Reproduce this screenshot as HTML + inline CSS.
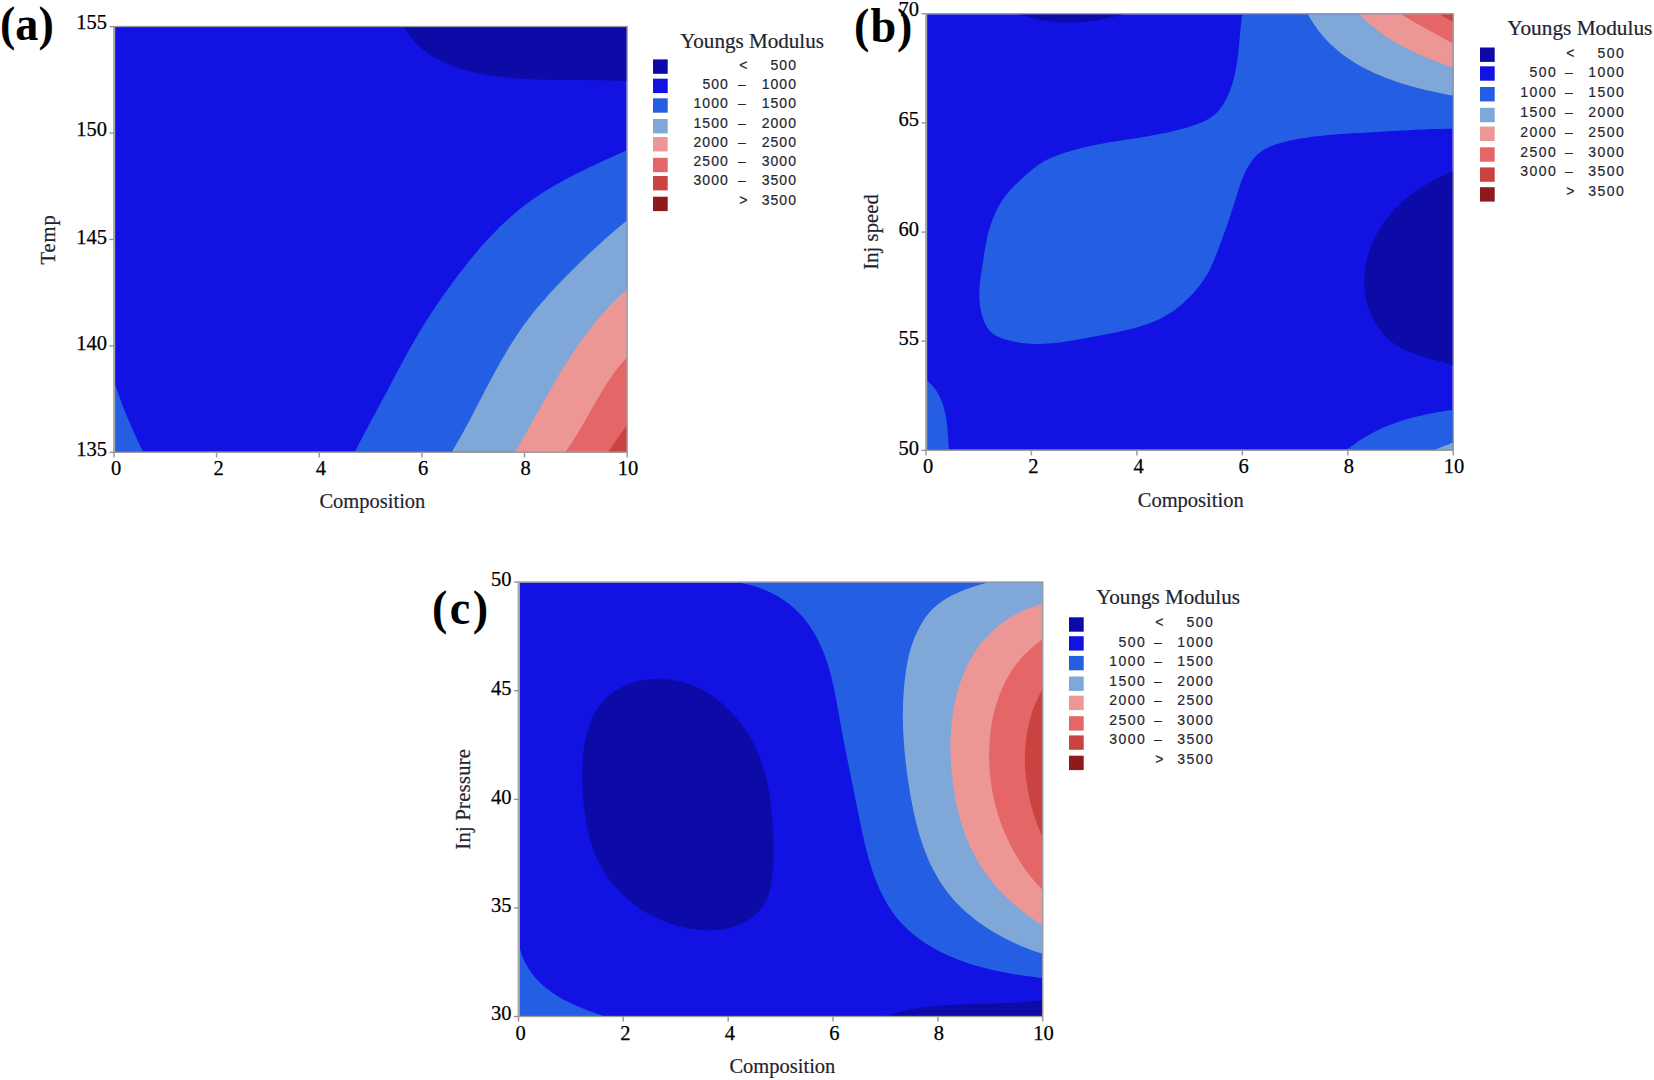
<!DOCTYPE html>
<html lang="en"><head><meta charset="utf-8"><title>Youngs Modulus contour plots</title>
<style>
html,body{margin:0;padding:0;background:#fff}
body{width:1654px;height:1080px;overflow:hidden}
svg{display:block}
text{font-family:"Liberation Serif","Times New Roman",serif;fill:#000}
.tk{fill:#000;stroke:#000;stroke-width:0.25px}
.al{fill:#1f2430;stroke:#1f2430;stroke-width:0.2px}
.lg{font-family:"Liberation Sans",Arial,sans-serif;font-size:14px;fill:#26262c;stroke:#26262c;stroke-width:0.2px}
.pl{font-weight:bold;font-size:48.6px;fill:#000}
</style></head><body>
<svg width="1654" height="1080" viewBox="0 0 1654 1080">
<rect width="1654" height="1080" fill="#fff"/>
<g shape-rendering="geometricPrecision">
<rect x="115.0" y="27.0" width="511.7" height="424.8" fill="#1212e3"/>
<path d="M403.7 27.0L406.0 30.8L408.5 34.3L411.1 37.7L413.8 40.9L416.6 43.9L419.6 46.7L422.7 49.3L425.8 51.8L429.1 54.2L432.5 56.4L435.9 58.4L439.5 60.3L443.1 62.1L446.8 63.7L450.5 65.3L454.3 66.7L458.2 68.0L462.1 69.2L466.0 70.3L470.0 71.3L474.0 72.3L478.1 73.1L482.1 73.9L486.2 74.7L490.3 75.3L494.4 76.0L498.5 76.5L502.6 77.0L506.8 77.5L510.9 77.9L515.0 78.2L519.2 78.5L523.4 78.8L527.5 79.1L531.7 79.3L535.9 79.4L540.0 79.6L544.2 79.7L548.4 79.8L552.6 79.9L556.8 79.9L560.9 80.0L565.1 80.0L569.3 80.1L573.4 80.1L577.6 80.1L581.7 80.1L585.9 80.1L590.0 80.2L594.1 80.2L598.3 80.2L602.4 80.3L606.5 80.4L610.5 80.5L614.6 80.6L618.6 80.7L622.7 80.9L626.7 81.1L626.7 27.0Z" fill="#0d0ba8"/>
<path d="M626.7 150.3L623.0 152.0L619.4 153.6L615.7 155.3L612.0 156.9L608.3 158.6L604.6 160.3L600.9 162.0L597.2 163.7L593.5 165.4L589.8 167.1L586.2 168.9L582.5 170.7L578.8 172.5L575.2 174.3L571.6 176.2L568.0 178.1L564.4 180.0L560.8 182.0L557.3 183.9L553.7 186.0L550.2 188.0L546.8 190.2L543.3 192.3L539.9 194.5L536.6 196.7L533.2 199.0L529.9 201.4L526.7 203.8L523.5 206.2L520.3 208.7L517.2 211.3L514.1 213.9L511.0 216.5L508.0 219.2L505.0 222.0L502.1 224.8L499.2 227.6L496.3 230.5L493.5 233.4L490.6 236.3L487.9 239.3L485.1 242.3L482.4 245.3L479.7 248.3L477.1 251.4L474.5 254.5L471.9 257.7L469.3 260.8L466.8 264.0L464.3 267.2L461.8 270.4L459.3 273.6L456.8 276.9L454.4 280.1L452.0 283.4L449.6 286.7L447.2 290.0L444.9 293.3L442.5 296.6L440.2 299.9L437.9 303.2L435.7 306.6L433.4 310.0L431.2 313.3L429.0 316.7L426.8 320.1L424.6 323.5L422.5 327.0L420.4 330.4L418.3 333.9L416.2 337.4L414.2 340.9L412.2 344.4L410.2 347.9L408.2 351.5L406.3 355.0L404.3 358.6L402.4 362.2L400.5 365.7L398.5 369.3L396.6 372.9L394.7 376.5L392.9 380.1L391.0 383.7L389.1 387.3L387.2 390.9L385.3 394.5L383.4 398.1L381.5 401.6L379.5 405.2L377.6 408.8L375.7 412.4L373.8 415.9L371.8 419.5L369.9 423.1L368.0 426.6L366.1 430.2L364.2 433.8L362.3 437.4L360.4 441.0L358.6 444.6L356.7 448.2L354.9 451.8L626.7 451.8Z" fill="#245ee2"/>
<path d="M626.7 220.6L623.6 223.2L620.5 225.7L617.4 228.3L614.3 231.0L611.2 233.6L608.2 236.3L605.1 239.0L602.1 241.7L599.1 244.5L596.1 247.2L593.1 250.0L590.1 252.8L587.2 255.6L584.2 258.4L581.3 261.2L578.4 264.1L575.5 266.9L572.6 269.8L569.7 272.7L566.8 275.6L563.9 278.5L561.1 281.4L558.3 284.4L555.5 287.3L552.7 290.3L549.9 293.3L547.2 296.3L544.5 299.4L541.8 302.4L539.2 305.5L536.6 308.6L534.0 311.8L531.5 314.9L529.0 318.1L526.5 321.4L524.1 324.6L521.8 327.9L519.5 331.2L517.2 334.6L515.0 338.0L512.8 341.4L510.6 344.8L508.5 348.2L506.4 351.7L504.4 355.2L502.3 358.7L500.3 362.3L498.3 365.8L496.3 369.4L494.4 372.9L492.5 376.5L490.5 380.1L488.6 383.7L486.7 387.3L484.8 391.0L483.0 394.6L481.1 398.2L479.2 401.8L477.3 405.4L475.4 409.1L473.6 412.7L471.7 416.3L469.8 419.9L467.9 423.5L465.9 427.1L464.0 430.7L462.0 434.2L460.0 437.8L458.0 441.3L456.0 444.8L454.0 448.3L451.9 451.8L626.7 451.8Z" fill="#7fa8d9"/>
<path d="M626.7 289.8L623.6 292.5L620.5 295.3L617.5 298.2L614.6 301.1L611.7 304.0L608.8 307.0L606.0 310.0L603.3 313.0L600.6 316.1L597.9 319.2L595.3 322.4L592.7 325.5L590.2 328.8L587.7 332.0L585.2 335.3L582.8 338.6L580.4 341.9L578.0 345.3L575.7 348.7L573.4 352.1L571.1 355.5L568.9 359.0L566.7 362.5L564.5 366.0L562.3 369.5L560.2 373.0L558.0 376.5L555.9 380.1L553.8 383.6L551.8 387.2L549.7 390.8L547.7 394.4L545.6 398.0L543.6 401.6L541.6 405.2L539.6 408.8L537.5 412.4L535.5 416.0L533.5 419.6L531.5 423.2L529.5 426.8L527.5 430.4L525.5 434.0L523.5 437.6L521.5 441.1L519.5 444.7L517.4 448.3L515.4 451.8L626.7 451.8Z" fill="#ec9795"/>
<path d="M626.7 357.7L624.1 360.6L621.5 363.5L619.1 366.5L616.7 369.6L614.3 372.6L612.1 375.8L609.9 379.0L607.7 382.2L605.6 385.4L603.6 388.7L601.6 392.0L599.6 395.4L597.6 398.7L595.7 402.1L593.7 405.4L591.8 408.8L589.9 412.2L588.0 415.6L586.1 419.0L584.2 422.4L582.2 425.7L580.2 429.1L578.2 432.4L576.2 435.7L574.2 439.0L572.0 442.2L569.9 445.5L567.7 448.7L565.4 451.8L626.7 451.8Z" fill="#e56666"/>
<path d="M626.7 425.4C625.1 427.7 620.0 434.6 617.0 439.0C614.0 443.4 609.9 449.7 608.5 451.8L626.7 451.8Z" fill="#c94441"/>
<path d="M115.0 384.3C117.0 389.8 122.5 405.8 127.2 417.0C131.9 428.2 140.4 446.0 143.0 451.8L115.0 451.8Z" fill="#245ee2"/>
<rect x="114.5" y="26.5" width="512.7" height="425.8" fill="none" stroke="#9c9c9c" stroke-width="1.3"/><line x1="114.1" y1="26.0" x2="114.1" y2="452.8" stroke="#a6a6a6" stroke-width="2"/>
<line x1="114.0" y1="451.8" x2="114.0" y2="457.4" stroke="#9c9c9c" stroke-width="1.5"/>
<text x="116.2" y="475.0" font-size="20.5" text-anchor="middle" class="tk">0</text>
<line x1="216.6" y1="451.8" x2="216.6" y2="457.4" stroke="#9c9c9c" stroke-width="1.5"/>
<text x="218.5" y="475.0" font-size="20.5" text-anchor="middle" class="tk">2</text>
<line x1="319.2" y1="451.8" x2="319.2" y2="457.4" stroke="#9c9c9c" stroke-width="1.5"/>
<text x="320.9" y="475.0" font-size="20.5" text-anchor="middle" class="tk">4</text>
<line x1="421.9" y1="451.8" x2="421.9" y2="457.4" stroke="#9c9c9c" stroke-width="1.5"/>
<text x="423.2" y="475.0" font-size="20.5" text-anchor="middle" class="tk">6</text>
<line x1="524.5" y1="451.8" x2="524.5" y2="457.4" stroke="#9c9c9c" stroke-width="1.5"/>
<text x="525.6" y="475.0" font-size="20.5" text-anchor="middle" class="tk">8</text>
<line x1="627.1" y1="451.8" x2="627.1" y2="457.4" stroke="#9c9c9c" stroke-width="1.5"/>
<text x="627.9" y="475.0" font-size="20.5" text-anchor="middle" class="tk">10</text>
<line x1="109.4" y1="452.3" x2="114.0" y2="452.3" stroke="#909090" stroke-width="1.3"/>
<text x="107.0" y="455.9" font-size="20.5" text-anchor="end" class="tk">135</text>
<line x1="109.4" y1="345.9" x2="114.0" y2="345.9" stroke="#909090" stroke-width="1.3"/>
<text x="107.0" y="349.5" font-size="20.5" text-anchor="end" class="tk">140</text>
<line x1="109.4" y1="239.5" x2="114.0" y2="239.5" stroke="#909090" stroke-width="1.3"/>
<text x="107.0" y="243.7" font-size="20.5" text-anchor="end" class="tk">145</text>
<line x1="109.4" y1="133.0" x2="114.0" y2="133.0" stroke="#909090" stroke-width="1.3"/>
<text x="107.0" y="135.5" font-size="20.5" text-anchor="end" class="tk">150</text>
<line x1="109.4" y1="26.6" x2="114.0" y2="26.6" stroke="#909090" stroke-width="1.3"/>
<text x="107.0" y="29.1" font-size="20.5" text-anchor="end" class="tk">155</text>
<text x="372.4" y="508.3" font-size="20.5" text-anchor="middle" class="al">Composition</text>
<text transform="translate(55.0 239.4) rotate(-90)" font-size="20.5" text-anchor="middle" letter-spacing="1.00" class="al">Temp</text>
<text x="680.2" y="48.3" font-size="21.1" class="al lt">Youngs Modulus</text>
<rect x="653.0" y="59.4" width="14.7" height="14.4" fill="#0d0ba8"/>
<text x="743.3" y="69.7" text-anchor="middle" class="lg">&lt;</text>
<text x="797.0" y="69.7" text-anchor="end" letter-spacing="1.05" class="lg">500</text>
<rect x="653.0" y="78.7" width="14.7" height="14.4" fill="#1212e3"/>
<text x="728.9" y="89.0" text-anchor="end" letter-spacing="1.05" class="lg">500</text>
<text x="742.0" y="89.0" text-anchor="middle" class="lg">–</text>
<text x="797.0" y="89.0" text-anchor="end" letter-spacing="1.05" class="lg">1000</text>
<rect x="653.0" y="98.3" width="14.7" height="14.4" fill="#245ee2"/>
<text x="728.9" y="108.3" text-anchor="end" letter-spacing="1.05" class="lg">1000</text>
<text x="742.0" y="108.3" text-anchor="middle" class="lg">–</text>
<text x="797.0" y="108.3" text-anchor="end" letter-spacing="1.05" class="lg">1500</text>
<rect x="653.0" y="119.0" width="14.7" height="14.4" fill="#7fa8d9"/>
<text x="728.9" y="127.6" text-anchor="end" letter-spacing="1.05" class="lg">1500</text>
<text x="742.0" y="127.6" text-anchor="middle" class="lg">–</text>
<text x="797.0" y="127.6" text-anchor="end" letter-spacing="1.05" class="lg">2000</text>
<rect x="653.0" y="137.0" width="14.7" height="14.4" fill="#ec9795"/>
<text x="728.9" y="146.9" text-anchor="end" letter-spacing="1.05" class="lg">2000</text>
<text x="742.0" y="146.9" text-anchor="middle" class="lg">–</text>
<text x="797.0" y="146.9" text-anchor="end" letter-spacing="1.05" class="lg">2500</text>
<rect x="653.0" y="157.8" width="14.7" height="14.4" fill="#e56666"/>
<text x="728.9" y="166.1" text-anchor="end" letter-spacing="1.05" class="lg">2500</text>
<text x="742.0" y="166.1" text-anchor="middle" class="lg">–</text>
<text x="797.0" y="166.1" text-anchor="end" letter-spacing="1.05" class="lg">3000</text>
<rect x="653.0" y="176.0" width="14.7" height="14.4" fill="#c94441"/>
<text x="728.9" y="185.4" text-anchor="end" letter-spacing="1.05" class="lg">3000</text>
<text x="742.0" y="185.4" text-anchor="middle" class="lg">–</text>
<text x="797.0" y="185.4" text-anchor="end" letter-spacing="1.05" class="lg">3500</text>
<rect x="653.0" y="196.7" width="14.7" height="14.4" fill="#8e1a1c"/>
<text x="743.3" y="204.7" text-anchor="middle" class="lg">&gt;</text>
<text x="797.0" y="204.7" text-anchor="end" letter-spacing="1.05" class="lg">3500</text>
<rect x="927.0" y="14.2" width="525.8" height="435.6" fill="#1212e3"/>
<path d="M1018.6 14.2L1022.2 15.3L1025.7 16.3L1029.3 17.3L1032.9 18.1L1036.5 19.0L1040.1 19.7L1043.7 20.4L1047.3 21.0L1051.0 21.5L1054.6 21.9L1058.3 22.2L1061.9 22.4L1065.5 22.6L1069.2 22.6L1072.9 22.6L1076.5 22.4L1080.2 22.2L1083.8 21.9L1087.5 21.5L1091.1 21.0L1094.7 20.5L1098.4 19.9L1102.0 19.2L1105.6 18.5L1109.2 17.8L1112.8 16.9L1116.4 16.1L1120.0 15.2L1123.6 14.2Z" fill="#0d0ba8"/>
<path d="M1242.1 14.2L1241.6 18.2L1241.2 22.2L1240.7 26.2L1240.4 30.2L1240.0 34.2L1239.7 38.2L1239.3 42.2L1238.9 46.2L1238.5 50.2L1238.1 54.2L1237.6 58.2L1237.0 62.1L1236.4 66.1L1235.7 70.0L1234.9 74.0L1233.9 77.9L1232.9 81.8L1231.7 85.7L1230.3 89.5L1228.9 93.4L1227.2 97.1L1225.3 100.7L1223.3 104.2L1221.0 107.6L1218.6 110.7L1215.9 113.5L1212.9 116.1L1209.7 118.3L1206.2 120.3L1202.6 122.0L1198.8 123.5L1195.0 124.9L1191.1 126.2L1187.2 127.4L1183.3 128.5L1179.4 129.6L1175.5 130.6L1171.6 131.5L1167.7 132.4L1163.7 133.3L1159.8 134.1L1155.8 134.8L1151.9 135.5L1147.9 136.2L1143.9 136.9L1139.9 137.5L1136.0 138.2L1132.0 138.8L1128.0 139.4L1124.1 140.0L1120.1 140.7L1116.1 141.3L1112.1 141.9L1108.2 142.6L1104.2 143.3L1100.3 144.0L1096.4 144.8L1092.4 145.6L1088.5 146.4L1084.6 147.3L1080.7 148.2L1076.8 149.2L1073.0 150.3L1069.1 151.4L1065.3 152.6L1061.4 153.9L1057.6 155.2L1053.9 156.7L1050.2 158.3L1046.5 160.0L1043.0 161.9L1039.6 164.1L1036.3 166.4L1033.2 168.8L1030.1 171.4L1027.0 174.1L1024.0 176.8L1021.0 179.5L1018.0 182.2L1015.1 185.0L1012.2 187.9L1009.5 190.8L1006.9 193.9L1004.5 197.0L1002.2 200.3L1000.1 203.7L998.1 207.2L996.3 210.8L994.6 214.4L993.0 218.2L991.6 222.0L990.3 225.8L989.2 229.7L988.1 233.6L987.2 237.5L986.4 241.5L985.6 245.4L984.9 249.4L984.3 253.3L983.7 257.3L983.1 261.3L982.4 265.2L981.8 269.2L981.2 273.1L980.6 277.1L980.1 281.1L979.7 285.1L979.4 289.1L979.3 293.1L979.3 297.1L979.5 301.2L980.0 305.2L980.6 309.2L981.5 313.3L982.6 317.2L984.0 321.2L985.7 324.9L987.8 328.4L990.3 331.4L993.3 334.0L996.7 336.1L1000.4 337.8L1004.2 339.2L1008.2 340.3L1012.1 341.3L1016.0 342.1L1020.0 342.8L1023.9 343.3L1027.9 343.6L1031.8 343.9L1035.8 344.0L1039.8 343.9L1043.7 343.8L1047.7 343.6L1051.7 343.3L1055.7 342.9L1059.7 342.4L1063.7 341.9L1067.6 341.3L1071.6 340.6L1075.6 339.9L1079.6 339.2L1083.6 338.5L1087.7 337.7L1091.7 337.0L1095.7 336.2L1099.7 335.5L1103.7 334.7L1107.7 334.0L1111.7 333.2L1115.7 332.4L1119.6 331.6L1123.6 330.8L1127.5 329.8L1131.4 328.9L1135.3 327.9L1139.1 326.8L1142.9 325.6L1146.7 324.3L1150.4 322.9L1154.0 321.5L1157.6 319.9L1161.2 318.2L1164.7 316.3L1168.1 314.3L1171.5 312.2L1174.8 309.9L1178.0 307.5L1181.2 304.9L1184.3 302.2L1187.3 299.3L1190.2 296.4L1192.9 293.4L1195.6 290.4L1198.2 287.3L1200.7 284.1L1203.0 280.9L1205.2 277.6L1207.3 274.2L1209.2 270.7L1211.0 267.1L1212.6 263.4L1214.2 259.7L1215.7 255.9L1217.2 252.1L1218.6 248.4L1220.0 244.6L1221.4 240.9L1222.8 237.1L1224.2 233.3L1225.5 229.6L1226.9 225.8L1228.2 222.0L1229.5 218.2L1230.7 214.4L1232.0 210.6L1233.2 206.8L1234.4 202.9L1235.6 199.1L1236.8 195.2L1238.0 191.3L1239.3 187.4L1240.6 183.6L1242.0 179.8L1243.5 176.1L1245.1 172.4L1246.9 168.8L1248.9 165.4L1251.1 162.0L1253.6 158.8L1256.2 155.8L1259.2 153.1L1262.3 150.7L1265.7 148.7L1269.2 146.9L1272.9 145.4L1276.7 144.0L1280.6 142.9L1284.6 141.9L1288.6 141.0L1292.5 140.1L1296.5 139.3L1300.5 138.6L1304.5 138.0L1308.5 137.4L1312.4 136.8L1316.4 136.3L1320.4 135.9L1324.4 135.4L1328.4 135.1L1332.4 134.7L1336.4 134.4L1340.4 134.1L1344.4 133.8L1348.4 133.6L1352.4 133.3L1356.4 133.1L1360.4 132.9L1364.4 132.7L1368.4 132.5L1372.4 132.2L1376.4 132.0L1380.5 131.8L1384.5 131.6L1388.5 131.3L1392.5 131.1L1396.6 130.9L1400.6 130.6L1404.6 130.4L1408.6 130.2L1412.7 130.0L1416.7 129.8L1420.7 129.6L1424.7 129.4L1428.7 129.3L1432.8 129.1L1436.8 129.0L1440.8 128.9L1444.8 128.8L1448.8 128.7L1452.8 128.7L1452.8 14.2Z" fill="#245ee2"/>
<path d="M1308.0 14.2L1310.0 17.9L1312.2 21.6L1314.5 25.1L1316.9 28.5L1319.3 31.8L1321.9 35.0L1324.6 38.0L1327.4 41.0L1330.2 43.9L1333.2 46.6L1336.2 49.3L1339.3 51.9L1342.5 54.4L1345.7 56.8L1349.1 59.1L1352.4 61.3L1355.9 63.4L1359.4 65.5L1363.0 67.4L1366.6 69.3L1370.3 71.1L1374.0 72.9L1377.7 74.5L1381.5 76.1L1385.4 77.7L1389.2 79.1L1393.1 80.5L1397.1 81.9L1401.0 83.2L1405.0 84.4L1408.9 85.6L1412.9 86.7L1416.9 87.8L1420.9 88.8L1424.9 89.8L1429.0 90.7L1433.0 91.6L1437.0 92.5L1440.9 93.3L1444.9 94.1L1448.9 94.9L1452.8 95.6L1452.8 14.2Z" fill="#7fa8d9"/>
<path d="M1359.7 14.2L1362.3 17.0L1365.0 19.6L1367.7 22.2L1370.5 24.7L1373.3 27.1L1376.2 29.5L1379.2 31.7L1382.2 33.9L1385.3 36.0L1388.4 38.1L1391.5 40.0L1394.7 42.0L1398.0 43.8L1401.3 45.6L1404.6 47.4L1407.9 49.1L1411.3 50.7L1414.7 52.3L1418.1 53.9L1421.5 55.4L1424.9 56.8L1428.4 58.3L1431.9 59.7L1435.4 61.1L1438.8 62.5L1442.3 63.8L1445.8 65.1L1449.3 66.4L1452.8 67.7L1452.8 14.2Z" fill="#ec9795"/>
<path d="M1401.1 14.2C1404.8 16.4 1416.6 23.4 1423.1 27.1C1429.6 30.8 1435.1 33.7 1440.1 36.4C1445.0 39.1 1450.7 42.1 1452.8 43.2L1452.8 14.2Z" fill="#e56666"/>
<path d="M1439.2 14.2C1441.5 15.4 1450.5 20.4 1452.8 21.7L1452.8 14.2Z" fill="#c94441"/>
<path d="M1452.8 171.3L1449.0 172.9L1445.3 174.5L1441.6 176.2L1437.9 178.0L1434.3 179.9L1430.7 181.8L1427.2 183.9L1423.7 185.9L1420.2 188.1L1416.9 190.4L1413.6 192.7L1410.3 195.1L1407.2 197.6L1404.1 200.2L1401.1 202.9L1398.1 205.7L1395.3 208.5L1392.6 211.5L1389.9 214.5L1387.4 217.7L1384.9 220.9L1382.6 224.2L1380.4 227.6L1378.3 231.2L1376.3 234.8L1374.5 238.4L1372.8 242.2L1371.2 246.0L1369.8 249.9L1368.5 253.8L1367.4 257.8L1366.4 261.8L1365.6 265.8L1365.0 269.9L1364.5 273.9L1364.3 278.0L1364.2 282.1L1364.3 286.2L1364.7 290.2L1365.2 294.2L1365.9 298.2L1366.8 302.2L1367.8 306.1L1369.1 309.9L1370.6 313.6L1372.2 317.3L1374.1 320.8L1376.1 324.3L1378.3 327.6L1380.6 330.8L1383.2 333.8L1385.9 336.7L1388.8 339.5L1391.9 342.0L1395.1 344.4L1398.5 346.6L1402.1 348.6L1405.8 350.4L1409.6 352.0L1413.5 353.5L1417.5 354.9L1421.6 356.2L1425.6 357.4L1429.7 358.6L1433.7 359.7L1437.7 360.8L1441.6 361.8L1445.5 362.9L1449.2 364.0L1452.8 365.2Z" fill="#0d0ba8"/>
<path d="M1347.0 449.8L1350.1 447.3L1353.3 444.9L1356.5 442.5L1359.8 440.3L1363.1 438.2L1366.5 436.2L1369.9 434.2L1373.4 432.4L1376.9 430.6L1380.5 428.9L1384.1 427.3L1387.7 425.8L1391.4 424.4L1395.1 423.0L1398.8 421.7L1402.5 420.5L1406.3 419.3L1410.1 418.2L1414.0 417.2L1417.8 416.3L1421.7 415.4L1425.5 414.5L1429.4 413.7L1433.3 413.0L1437.2 412.3L1441.1 411.7L1445.0 411.1L1448.9 410.5L1452.8 410.0L1452.8 449.8Z" fill="#245ee2"/>
<path d="M1434.2 449.8C1437.3 448.6 1449.7 443.9 1452.8 442.7L1452.8 449.8Z" fill="#7fa8d9"/>
<path d="M927.0 380.6L929.0 382.4L930.9 384.2L932.7 386.1L934.3 388.1L935.9 390.2L937.3 392.3L938.5 394.5L939.7 396.8L940.8 399.1L941.7 401.4L942.6 403.8L943.4 406.2L944.1 408.7L944.7 411.2L945.3 413.7L945.8 416.3L946.2 418.9L946.6 421.5L946.9 424.1L947.2 426.7L947.5 429.3L947.7 431.9L947.9 434.5L948.1 437.1L948.3 439.7L948.4 442.2L948.6 444.8L948.7 447.3L948.9 449.8L927.0 449.8Z" fill="#245ee2"/>
<rect x="926.5" y="13.7" width="526.8" height="436.6" fill="none" stroke="#9c9c9c" stroke-width="1.3"/><line x1="926.1" y1="13.2" x2="926.1" y2="450.8" stroke="#a6a6a6" stroke-width="2"/>
<line x1="926.0" y1="449.8" x2="926.0" y2="455.4" stroke="#9c9c9c" stroke-width="1.5"/>
<text x="928.2" y="472.6" font-size="20.5" text-anchor="middle" class="tk">0</text>
<line x1="1031.4" y1="449.8" x2="1031.4" y2="455.4" stroke="#9c9c9c" stroke-width="1.5"/>
<text x="1033.4" y="472.6" font-size="20.5" text-anchor="middle" class="tk">2</text>
<line x1="1136.9" y1="449.8" x2="1136.9" y2="455.4" stroke="#9c9c9c" stroke-width="1.5"/>
<text x="1138.5" y="472.6" font-size="20.5" text-anchor="middle" class="tk">4</text>
<line x1="1242.3" y1="449.8" x2="1242.3" y2="455.4" stroke="#9c9c9c" stroke-width="1.5"/>
<text x="1243.7" y="472.6" font-size="20.5" text-anchor="middle" class="tk">6</text>
<line x1="1347.8" y1="449.8" x2="1347.8" y2="455.4" stroke="#9c9c9c" stroke-width="1.5"/>
<text x="1348.8" y="472.6" font-size="20.5" text-anchor="middle" class="tk">8</text>
<line x1="1453.2" y1="449.8" x2="1453.2" y2="455.4" stroke="#9c9c9c" stroke-width="1.5"/>
<text x="1454.0" y="472.6" font-size="20.5" text-anchor="middle" class="tk">10</text>
<line x1="921.4" y1="450.3" x2="926.0" y2="450.3" stroke="#909090" stroke-width="1.3"/>
<text x="919.0" y="454.5" font-size="20.5" text-anchor="end" class="tk">50</text>
<line x1="921.4" y1="341.2" x2="926.0" y2="341.2" stroke="#909090" stroke-width="1.3"/>
<text x="919.0" y="345.0" font-size="20.5" text-anchor="end" class="tk">55</text>
<line x1="921.4" y1="232.1" x2="926.0" y2="232.1" stroke="#909090" stroke-width="1.3"/>
<text x="919.0" y="236.0" font-size="20.5" text-anchor="end" class="tk">60</text>
<line x1="921.4" y1="122.9" x2="926.0" y2="122.9" stroke="#909090" stroke-width="1.3"/>
<text x="919.0" y="126.3" font-size="20.5" text-anchor="end" class="tk">65</text>
<line x1="921.4" y1="13.8" x2="926.0" y2="13.8" stroke="#909090" stroke-width="1.3"/>
<text x="919.0" y="16.0" font-size="20.5" text-anchor="end" class="tk">70</text>
<text x="1190.7" y="507.0" font-size="20.5" text-anchor="middle" class="al">Composition</text>
<text transform="translate(877.6 232.0) rotate(-90)" font-size="20.5" text-anchor="middle" letter-spacing="0.10" class="al">Inj speed</text>
<text x="1507.2" y="35.2" font-size="21.3" class="al lt">Youngs Modulus</text>
<rect x="1480.0" y="47.5" width="14.7" height="14.4" fill="#0d0ba8"/>
<text x="1570.3" y="57.6" text-anchor="middle" class="lg">&lt;</text>
<text x="1625.4" y="57.6" text-anchor="end" letter-spacing="1.50" class="lg">500</text>
<rect x="1480.0" y="66.3" width="14.7" height="14.4" fill="#1212e3"/>
<text x="1557.3" y="77.4" text-anchor="end" letter-spacing="1.50" class="lg">500</text>
<text x="1569.0" y="77.4" text-anchor="middle" class="lg">–</text>
<text x="1625.4" y="77.4" text-anchor="end" letter-spacing="1.50" class="lg">1000</text>
<rect x="1480.0" y="87.0" width="14.7" height="14.4" fill="#245ee2"/>
<text x="1557.3" y="97.2" text-anchor="end" letter-spacing="1.50" class="lg">1000</text>
<text x="1569.0" y="97.2" text-anchor="middle" class="lg">–</text>
<text x="1625.4" y="97.2" text-anchor="end" letter-spacing="1.50" class="lg">1500</text>
<rect x="1480.0" y="107.8" width="14.7" height="14.4" fill="#7fa8d9"/>
<text x="1557.3" y="116.9" text-anchor="end" letter-spacing="1.50" class="lg">1500</text>
<text x="1569.0" y="116.9" text-anchor="middle" class="lg">–</text>
<text x="1625.4" y="116.9" text-anchor="end" letter-spacing="1.50" class="lg">2000</text>
<rect x="1480.0" y="126.6" width="14.7" height="14.4" fill="#ec9795"/>
<text x="1557.3" y="136.7" text-anchor="end" letter-spacing="1.50" class="lg">2000</text>
<text x="1569.0" y="136.7" text-anchor="middle" class="lg">–</text>
<text x="1625.4" y="136.7" text-anchor="end" letter-spacing="1.50" class="lg">2500</text>
<rect x="1480.0" y="147.3" width="14.7" height="14.4" fill="#e56666"/>
<text x="1557.3" y="156.5" text-anchor="end" letter-spacing="1.50" class="lg">2500</text>
<text x="1569.0" y="156.5" text-anchor="middle" class="lg">–</text>
<text x="1625.4" y="156.5" text-anchor="end" letter-spacing="1.50" class="lg">3000</text>
<rect x="1480.0" y="167.4" width="14.7" height="14.4" fill="#c94441"/>
<text x="1557.3" y="176.3" text-anchor="end" letter-spacing="1.50" class="lg">3000</text>
<text x="1569.0" y="176.3" text-anchor="middle" class="lg">–</text>
<text x="1625.4" y="176.3" text-anchor="end" letter-spacing="1.50" class="lg">3500</text>
<rect x="1480.0" y="187.2" width="14.7" height="14.4" fill="#8e1a1c"/>
<text x="1570.3" y="196.1" text-anchor="middle" class="lg">&gt;</text>
<text x="1625.4" y="196.1" text-anchor="end" letter-spacing="1.50" class="lg">3500</text>
<rect x="519.5" y="582.5" width="522.8" height="433.5" fill="#1212e3"/>
<path d="M657.3 678.8L661.4 678.8L665.4 679.0L669.4 679.4L673.3 679.9L677.2 680.7L681.1 681.6L684.9 682.7L688.6 683.9L692.3 685.3L696.0 686.8L699.6 688.5L703.1 690.3L706.5 692.3L709.9 694.4L713.2 696.6L716.5 699.0L719.6 701.5L722.7 704.0L725.7 706.7L728.6 709.5L731.5 712.4L734.2 715.4L736.9 718.5L739.4 721.6L741.9 724.9L744.3 728.2L746.6 731.5L748.7 735.0L750.8 738.5L752.7 742.0L754.6 745.7L756.3 749.3L757.9 753.0L759.5 756.8L760.9 760.5L762.2 764.4L763.4 768.2L764.5 772.1L765.6 776.0L766.6 779.9L767.4 783.9L768.2 787.9L769.0 791.9L769.6 795.9L770.2 799.9L770.8 803.9L771.2 807.9L771.7 812.0L772.0 816.0L772.3 820.1L772.6 824.1L772.8 828.1L773.0 832.2L773.2 836.2L773.3 840.2L773.4 844.2L773.4 848.1L773.4 852.1L773.4 856.1L773.3 860.0L773.2 864.0L772.9 868.1L772.6 872.1L772.2 876.2L771.7 880.3L771.0 884.4L770.2 888.5L769.1 892.5L767.9 896.4L766.3 900.1L764.5 903.7L762.3 907.1L759.9 910.2L757.1 913.2L754.1 915.9L750.9 918.3L747.5 920.5L744.0 922.5L740.4 924.2L736.8 925.7L733.0 926.9L729.1 928.0L725.2 928.8L721.2 929.4L717.2 929.9L713.2 930.1L709.1 930.2L705.0 930.2L700.9 929.9L696.8 929.6L692.8 929.0L688.8 928.4L684.7 927.6L680.8 926.7L676.8 925.6L672.9 924.5L669.1 923.2L665.3 921.8L661.5 920.3L657.8 918.6L654.2 916.9L650.6 915.0L647.0 913.0L643.6 910.9L640.2 908.7L636.9 906.4L633.6 904.0L630.5 901.5L627.4 899.0L624.4 896.3L621.5 893.5L618.7 890.6L616.0 887.7L613.4 884.7L610.9 881.6L608.5 878.4L606.3 875.1L604.1 871.8L602.1 868.3L600.1 864.8L598.4 861.3L596.7 857.7L595.1 854.0L593.7 850.3L592.3 846.5L591.1 842.6L590.0 838.8L588.9 834.8L588.0 830.9L587.1 826.9L586.4 822.9L585.7 818.9L585.1 814.8L584.5 810.7L584.0 806.7L583.6 802.6L583.3 798.5L583.0 794.4L582.7 790.3L582.6 786.2L582.4 782.1L582.3 778.1L582.3 774.1L582.3 770.0L582.4 766.0L582.6 762.0L582.8 758.1L583.2 754.1L583.6 750.2L584.2 746.2L584.8 742.3L585.6 738.4L586.5 734.6L587.6 730.7L588.8 726.9L590.1 723.1L591.7 719.3L593.4 715.7L595.2 712.1L597.3 708.6L599.6 705.3L602.1 702.1L604.8 699.2L607.8 696.4L610.9 693.9L614.2 691.5L617.7 689.4L621.3 687.4L625.0 685.7L628.9 684.1L632.8 682.8L636.8 681.6L640.9 680.7L645.0 679.9L649.1 679.3L653.2 678.9L657.3 678.8Z" fill="#0d0ba8"/>
<path d="M737.9 582.5L742.0 583.2L746.0 584.0L750.0 585.0L754.0 586.1L757.9 587.3L761.8 588.7L765.6 590.2L769.3 591.9L773.0 593.7L776.5 595.6L780.0 597.7L783.4 599.9L786.7 602.2L789.9 604.6L793.0 607.2L795.9 609.9L798.7 612.7L801.5 615.6L804.1 618.6L806.5 621.8L808.9 625.0L811.2 628.3L813.3 631.7L815.3 635.1L817.3 638.7L819.1 642.3L820.8 645.9L822.4 649.6L824.0 653.4L825.4 657.2L826.7 661.0L828.0 664.9L829.1 668.8L830.2 672.7L831.3 676.7L832.2 680.7L833.1 684.7L834.0 688.7L834.8 692.7L835.6 696.7L836.4 700.8L837.1 704.8L837.8 708.8L838.6 712.8L839.3 716.8L840.0 720.8L840.7 724.8L841.4 728.8L842.2 732.8L842.9 736.7L843.7 740.6L844.4 744.6L845.2 748.5L846.0 752.4L846.7 756.3L847.5 760.2L848.3 764.1L849.1 768.0L849.9 771.9L850.7 775.8L851.5 779.7L852.3 783.7L853.1 787.6L853.9 791.5L854.7 795.5L855.5 799.4L856.3 803.4L857.2 807.4L858.0 811.4L858.8 815.4L859.6 819.5L860.4 823.5L861.3 827.6L862.1 831.6L863.0 835.7L863.9 839.7L864.8 843.7L865.8 847.8L866.8 851.8L867.9 855.8L869.0 859.7L870.1 863.6L871.4 867.5L872.6 871.4L873.9 875.3L875.3 879.0L876.8 882.8L878.3 886.5L880.0 890.2L881.7 893.7L883.5 897.3L885.3 900.8L887.3 904.2L889.4 907.5L891.5 910.8L893.8 914.0L896.2 917.1L898.7 920.2L901.3 923.1L904.1 926.0L906.9 928.8L909.9 931.5L913.0 934.1L916.2 936.6L919.4 939.1L922.8 941.4L926.2 943.7L929.7 945.8L933.3 947.9L936.9 949.9L940.6 951.9L944.3 953.7L948.1 955.5L951.9 957.1L955.7 958.7L959.5 960.2L963.4 961.6L967.3 963.0L971.1 964.3L975.0 965.5L978.9 966.6L982.8 967.6L986.7 968.6L990.7 969.6L994.6 970.5L998.5 971.3L1002.5 972.1L1006.4 972.8L1010.4 973.5L1014.3 974.2L1018.3 974.8L1022.3 975.4L1026.3 976.0L1030.3 976.6L1034.3 977.1L1038.3 977.7L1042.3 978.2L1042.3 582.5Z" fill="#245ee2"/>
<path d="M988.2 582.5L984.3 583.5L980.4 584.6L976.5 585.8L972.6 587.0L968.7 588.3L964.8 589.7L961.0 591.3L957.2 592.9L953.5 594.6L949.9 596.5L946.4 598.5L943.0 600.7L939.7 603.0L936.6 605.5L933.6 608.1L930.8 610.9L928.1 613.9L925.7 617.1L923.4 620.4L921.3 623.9L919.3 627.5L917.5 631.2L915.7 634.9L914.1 638.7L912.7 642.5L911.3 646.4L910.2 650.3L909.1 654.3L908.2 658.3L907.4 662.3L906.7 666.3L906.1 670.3L905.5 674.4L905.0 678.4L904.5 682.4L904.1 686.4L903.8 690.5L903.5 694.5L903.3 698.5L903.1 702.5L903.0 706.5L902.9 710.6L902.8 714.6L902.9 718.6L902.9 722.6L903.0 726.7L903.2 730.7L903.4 734.7L903.6 738.8L903.9 742.8L904.2 746.8L904.5 750.9L904.9 754.9L905.3 758.9L905.8 763.0L906.3 767.0L906.8 771.1L907.3 775.1L907.9 779.2L908.5 783.2L909.1 787.3L909.8 791.3L910.5 795.4L911.2 799.4L912.0 803.5L912.8 807.5L913.6 811.5L914.5 815.6L915.4 819.6L916.4 823.5L917.4 827.5L918.5 831.4L919.6 835.4L920.8 839.2L922.1 843.1L923.4 846.9L924.8 850.7L926.3 854.5L927.8 858.2L929.4 861.9L931.1 865.5L932.9 869.1L934.8 872.6L936.7 876.1L938.7 879.5L940.9 882.9L943.1 886.2L945.4 889.5L947.8 892.7L950.3 895.8L952.9 898.9L955.6 901.9L958.4 904.8L961.3 907.7L964.3 910.5L967.4 913.2L970.5 915.8L973.7 918.4L977.0 920.9L980.3 923.4L983.7 925.8L987.2 928.1L990.7 930.3L994.2 932.4L997.8 934.5L1001.4 936.5L1005.1 938.5L1008.7 940.3L1012.4 942.1L1016.1 943.8L1019.9 945.4L1023.6 947.0L1027.4 948.5L1031.1 949.9L1034.8 951.2L1038.6 952.4L1042.3 953.6L1042.3 582.5Z" fill="#7fa8d9"/>
<path d="M1042.3 604.0L1038.3 605.1L1034.4 606.3L1030.5 607.7L1026.7 609.2L1022.9 610.8L1019.2 612.6L1015.6 614.5L1012.0 616.5L1008.5 618.7L1005.1 620.9L1001.8 623.3L998.6 625.8L995.5 628.4L992.4 631.1L989.5 633.9L986.7 636.8L984.0 639.8L981.4 642.9L978.9 646.1L976.6 649.4L974.4 652.8L972.3 656.2L970.3 659.7L968.4 663.3L966.6 666.9L964.9 670.6L963.4 674.3L961.9 678.1L960.5 681.9L959.3 685.7L958.1 689.6L957.0 693.5L956.0 697.5L955.1 701.4L954.3 705.4L953.6 709.4L952.9 713.4L952.3 717.4L951.9 721.5L951.4 725.5L951.1 729.6L950.8 733.7L950.7 737.8L950.5 741.9L950.5 746.0L950.5 750.1L950.6 754.2L950.7 758.3L951.0 762.4L951.2 766.5L951.6 770.5L952.0 774.6L952.4 778.7L952.9 782.8L953.4 786.9L954.1 790.9L954.7 794.9L955.4 799.0L956.2 803.0L957.1 806.9L958.0 810.9L959.0 814.8L960.0 818.8L961.2 822.7L962.4 826.5L963.7 830.3L965.0 834.1L966.4 837.9L968.0 841.6L969.6 845.3L971.2 849.0L973.0 852.6L974.9 856.1L976.8 859.6L978.8 863.1L981.0 866.5L983.2 869.9L985.5 873.2L987.9 876.5L990.4 879.7L993.0 882.8L995.7 886.0L998.4 889.0L1001.3 892.0L1004.1 894.9L1007.1 897.8L1010.1 900.6L1013.1 903.4L1016.2 906.1L1019.4 908.7L1022.6 911.3L1025.8 913.8L1029.0 916.2L1032.3 918.6L1035.6 920.9L1039.0 923.2L1042.3 925.4Z" fill="#ec9795"/>
<path d="M1042.3 639.6L1038.9 642.0L1035.6 644.5L1032.4 647.2L1029.3 649.9L1026.4 652.7L1023.6 655.6L1020.9 658.6L1018.3 661.7L1015.9 664.8L1013.5 668.1L1011.3 671.4L1009.2 674.8L1007.2 678.3L1005.3 681.8L1003.6 685.4L1001.9 689.0L1000.4 692.7L998.9 696.5L997.6 700.3L996.3 704.2L995.2 708.1L994.2 712.0L993.2 716.0L992.4 720.0L991.7 724.0L991.0 728.0L990.5 732.1L990.0 736.2L989.7 740.3L989.4 744.4L989.2 748.6L989.1 752.7L989.1 756.8L989.2 760.9L989.4 765.1L989.6 769.2L989.9 773.3L990.3 777.4L990.8 781.5L991.4 785.5L992.1 789.5L992.8 793.6L993.6 797.6L994.5 801.5L995.5 805.5L996.5 809.4L997.7 813.3L998.9 817.2L1000.2 821.0L1001.5 824.8L1003.0 828.6L1004.5 832.4L1006.1 836.1L1007.8 839.8L1009.6 843.4L1011.4 847.0L1013.3 850.6L1015.3 854.1L1017.4 857.6L1019.5 861.0L1021.8 864.4L1024.1 867.8L1026.4 871.1L1028.9 874.3L1031.4 877.5L1034.0 880.7L1036.7 883.8L1039.5 886.8L1042.3 889.8Z" fill="#e56666"/>
<path d="M1042.3 689.5L1040.3 693.1L1038.4 696.8L1036.7 700.5L1035.1 704.3L1033.6 708.1L1032.2 711.9L1031.0 715.9L1029.9 719.8L1028.9 723.8L1028.0 727.8L1027.3 731.8L1026.6 735.9L1026.1 740.0L1025.7 744.1L1025.3 748.2L1025.1 752.4L1025.0 756.5L1025.0 760.7L1025.1 764.8L1025.3 769.0L1025.6 773.1L1026.0 777.3L1026.5 781.4L1027.1 785.6L1027.7 789.7L1028.5 793.8L1029.3 797.8L1030.3 801.9L1031.3 805.9L1032.4 809.9L1033.6 813.9L1034.8 817.8L1036.2 821.7L1037.6 825.5L1039.1 829.3L1040.7 833.1L1042.3 836.8Z" fill="#c94441"/>
<path d="M885.8 1016.0L889.7 1014.7L893.7 1013.5L897.7 1012.4L901.7 1011.4L905.7 1010.4L909.8 1009.6L913.8 1008.9L917.9 1008.2L922.0 1007.6L926.1 1007.1L930.2 1006.6L934.3 1006.2L938.5 1005.8L942.6 1005.5L946.8 1005.2L950.9 1004.9L955.1 1004.7L959.2 1004.5L963.4 1004.4L967.6 1004.2L971.8 1004.1L975.9 1004.0L980.1 1003.9L984.3 1003.8L988.5 1003.7L992.7 1003.6L996.8 1003.4L1001.0 1003.3L1005.2 1003.1L1009.3 1003.0L1013.5 1002.8L1017.6 1002.5L1021.8 1002.3L1025.9 1001.9L1030.0 1001.6L1034.1 1001.2L1038.2 1000.7L1042.3 1000.2L1042.3 1016.0Z" fill="#0d0ba8"/>
<path d="M519.5 946.9L520.6 950.9L521.8 954.8L523.3 958.6L525.0 962.2L526.8 965.6L528.8 969.0L531.0 972.2L533.3 975.2L535.8 978.2L538.4 981.0L541.1 983.7L544.0 986.2L547.0 988.7L550.1 991.1L553.3 993.3L556.5 995.4L559.9 997.5L563.3 999.4L566.8 1001.2L570.4 1003.0L574.0 1004.7L577.6 1006.3L581.3 1007.8L585.0 1009.3L588.7 1010.7L592.4 1012.1L596.1 1013.4L599.8 1014.7L603.4 1016.0L519.5 1016.0Z" fill="#245ee2"/>
<rect x="519.0" y="582.0" width="523.8" height="434.5" fill="none" stroke="#9c9c9c" stroke-width="1.3"/><line x1="518.6" y1="581.5" x2="518.6" y2="1017.0" stroke="#a6a6a6" stroke-width="2"/>
<line x1="518.5" y1="1016.0" x2="518.5" y2="1021.6" stroke="#9c9c9c" stroke-width="1.5"/>
<text x="520.7" y="1040.1" font-size="20.5" text-anchor="middle" class="tk">0</text>
<line x1="623.3" y1="1016.0" x2="623.3" y2="1021.6" stroke="#9c9c9c" stroke-width="1.5"/>
<text x="625.3" y="1040.1" font-size="20.5" text-anchor="middle" class="tk">2</text>
<line x1="728.2" y1="1016.0" x2="728.2" y2="1021.6" stroke="#9c9c9c" stroke-width="1.5"/>
<text x="729.8" y="1040.1" font-size="20.5" text-anchor="middle" class="tk">4</text>
<line x1="833.0" y1="1016.0" x2="833.0" y2="1021.6" stroke="#9c9c9c" stroke-width="1.5"/>
<text x="834.4" y="1040.1" font-size="20.5" text-anchor="middle" class="tk">6</text>
<line x1="937.9" y1="1016.0" x2="937.9" y2="1021.6" stroke="#9c9c9c" stroke-width="1.5"/>
<text x="938.9" y="1040.1" font-size="20.5" text-anchor="middle" class="tk">8</text>
<line x1="1042.7" y1="1016.0" x2="1042.7" y2="1021.6" stroke="#9c9c9c" stroke-width="1.5"/>
<text x="1043.5" y="1040.1" font-size="20.5" text-anchor="middle" class="tk">10</text>
<line x1="513.9" y1="1016.5" x2="518.5" y2="1016.5" stroke="#909090" stroke-width="1.3"/>
<text x="511.5" y="1020.3" font-size="20.5" text-anchor="end" class="tk">30</text>
<line x1="513.9" y1="907.9" x2="518.5" y2="907.9" stroke="#909090" stroke-width="1.3"/>
<text x="511.5" y="911.9" font-size="20.5" text-anchor="end" class="tk">35</text>
<line x1="513.9" y1="799.3" x2="518.5" y2="799.3" stroke="#909090" stroke-width="1.3"/>
<text x="511.5" y="803.5" font-size="20.5" text-anchor="end" class="tk">40</text>
<line x1="513.9" y1="690.7" x2="518.5" y2="690.7" stroke="#909090" stroke-width="1.3"/>
<text x="511.5" y="695.2" font-size="20.5" text-anchor="end" class="tk">45</text>
<line x1="513.9" y1="582.1" x2="518.5" y2="582.1" stroke="#909090" stroke-width="1.3"/>
<text x="511.5" y="585.8" font-size="20.5" text-anchor="end" class="tk">50</text>
<text x="782.4" y="1072.6" font-size="20.5" text-anchor="middle" class="al">Composition</text>
<text transform="translate(470.2 799.2) rotate(-90)" font-size="20.5" text-anchor="middle" letter-spacing="0.30" class="al">Inj Pressure</text>
<text x="1096.2" y="604.4" font-size="21.1" class="al lt">Youngs Modulus</text>
<rect x="1069.0" y="617.3" width="14.7" height="14.4" fill="#0d0ba8"/>
<text x="1159.3" y="627.1" text-anchor="middle" class="lg">&lt;</text>
<text x="1214.4" y="627.1" text-anchor="end" letter-spacing="1.50" class="lg">500</text>
<rect x="1069.0" y="636.2" width="14.7" height="14.4" fill="#1212e3"/>
<text x="1146.3" y="646.6" text-anchor="end" letter-spacing="1.50" class="lg">500</text>
<text x="1158.0" y="646.6" text-anchor="middle" class="lg">–</text>
<text x="1214.4" y="646.6" text-anchor="end" letter-spacing="1.50" class="lg">1000</text>
<rect x="1069.0" y="655.9" width="14.7" height="14.4" fill="#245ee2"/>
<text x="1146.3" y="666.1" text-anchor="end" letter-spacing="1.50" class="lg">1000</text>
<text x="1158.0" y="666.1" text-anchor="middle" class="lg">–</text>
<text x="1214.4" y="666.1" text-anchor="end" letter-spacing="1.50" class="lg">1500</text>
<rect x="1069.0" y="676.5" width="14.7" height="14.4" fill="#7fa8d9"/>
<text x="1146.3" y="685.6" text-anchor="end" letter-spacing="1.50" class="lg">1500</text>
<text x="1158.0" y="685.6" text-anchor="middle" class="lg">–</text>
<text x="1214.4" y="685.6" text-anchor="end" letter-spacing="1.50" class="lg">2000</text>
<rect x="1069.0" y="695.7" width="14.7" height="14.4" fill="#ec9795"/>
<text x="1146.3" y="705.1" text-anchor="end" letter-spacing="1.50" class="lg">2000</text>
<text x="1158.0" y="705.1" text-anchor="middle" class="lg">–</text>
<text x="1214.4" y="705.1" text-anchor="end" letter-spacing="1.50" class="lg">2500</text>
<rect x="1069.0" y="716.2" width="14.7" height="14.4" fill="#e56666"/>
<text x="1146.3" y="724.6" text-anchor="end" letter-spacing="1.50" class="lg">2500</text>
<text x="1158.0" y="724.6" text-anchor="middle" class="lg">–</text>
<text x="1214.4" y="724.6" text-anchor="end" letter-spacing="1.50" class="lg">3000</text>
<rect x="1069.0" y="735.4" width="14.7" height="14.4" fill="#c94441"/>
<text x="1146.3" y="744.1" text-anchor="end" letter-spacing="1.50" class="lg">3000</text>
<text x="1158.0" y="744.1" text-anchor="middle" class="lg">–</text>
<text x="1214.4" y="744.1" text-anchor="end" letter-spacing="1.50" class="lg">3500</text>
<rect x="1069.0" y="755.7" width="14.7" height="14.4" fill="#8e1a1c"/>
<text x="1159.3" y="763.6" text-anchor="middle" class="lg">&gt;</text>
<text x="1214.4" y="763.6" text-anchor="end" letter-spacing="1.50" class="lg">3500</text>
</g>
<text transform="translate(0.0 40.1) scale(0.95 1)" letter-spacing="0.0" class="pl">(a)</text>
<text transform="translate(854.1 42.4) scale(0.95 1)" letter-spacing="1.0" class="pl">(b)</text>
<text transform="translate(432.0 624.2) scale(0.95 1)" letter-spacing="2.6" class="pl">(c)</text>
</svg>
</body></html>
